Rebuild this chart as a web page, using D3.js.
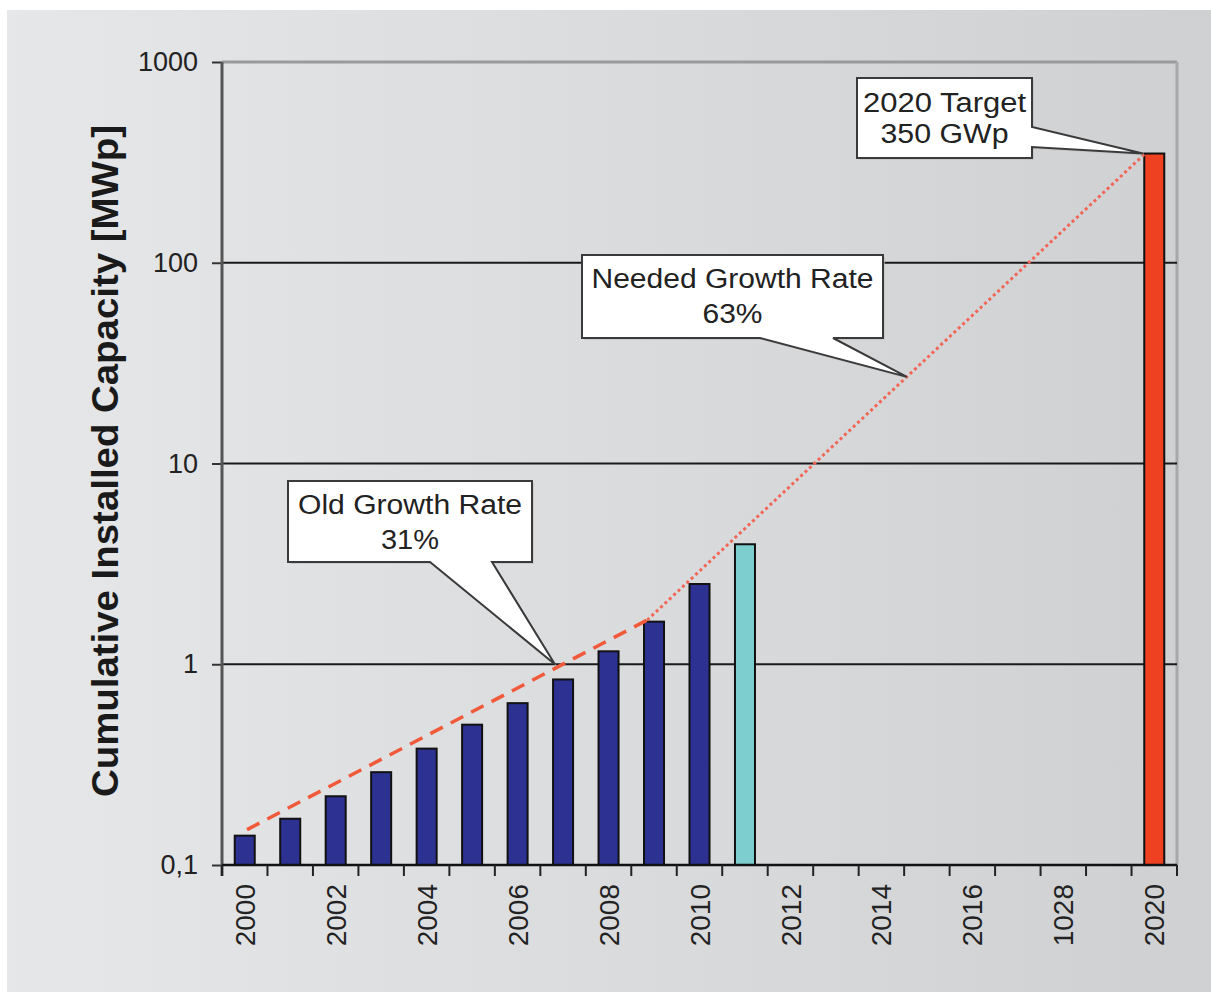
<!DOCTYPE html>
<html>
<head>
<meta charset="utf-8">
<script src="https://cdn.jsdelivr.net/npm/d3@7"></script>
<style>
  html, body { margin: 0; padding: 0; background: #ffffff; }
  svg { display: block; }
  text { font-family: "Liberation Sans", Arial, sans-serif; }
</style>
</head>
<body>
<svg id="chart" width="1211" height="992"></svg>
<script>
// ---------- DATA ----------
const years = d3.range(2000, 2021);                       // categories 2000..2020
const capacity = [0.14, 0.17, 0.22, 0.29, 0.38, 0.50, 0.64, 0.84, 1.16, 1.63, 2.51, 3.96,
                  null, null, null, null, null, null, null, null, 350];
const barKind = ["actual","actual","actual","actual","actual","actual","actual","actual","actual","actual","actual","estimate",
                 null, null, null, null, null, null, null, null, "target"];
const xTickYears = [2000, 2002, 2004, 2006, 2008, 2010, 2012, 2014, 2016, 2018, 2020];
const xTickLabels = ["2000", "2002", "2004", "2006", "2008", "2010", "2012", "2014", "2016", "1028", "2020"];
const yTickValues = [0.1, 1, 10, 100, 1000];
const yTickLabels = ["0,1", "1", "10", "100", "1000"];
const oldGrowthLine = [{year: 2000.05, value: 0.15}, {year: 2008.85, value: 1.66}];
const neededGrowthLine = [{year: 2008.85, value: 1.66}, {year: 2019.8, value: 350}];
const calloutText = [["Old Growth Rate", "31%"], ["Needed Growth Rate", "63%"], ["2020 Target", "350 GWp"]];
const calloutTip = [{year: 2006.82, value: 1}, {year: 2014.56, value: 27}, {year: 2019.75, value: 350}];
const yAxisTitle = "Cumulative Installed Capacity [MWp]";

// ---------- LAYOUT ----------
const W = 1211, H = 992;
const L = 222, R = 1177, T = 62, B = 865;
const svg = d3.select("#chart");
const defs = svg.append("defs");
const bg = defs.append("linearGradient").attr("id", "bg").attr("x1", 0).attr("x2", 1).attr("y1", 0).attr("y2", 0);
bg.append("stop").attr("offset", "0%").attr("stop-color", "#e6e7e9");
bg.append("stop").attr("offset", "100%").attr("stop-color", "#cfd0d2");

svg.append("rect").attr("width", W).attr("height", H).attr("fill", "#ffffff");
svg.append("rect").attr("x", 7).attr("y", 10).attr("width", W - 7).attr("height", H - 10).attr("fill", "url(#bg)");

const x = d3.scaleBand().domain(years).range([L, R]).paddingInner(0.56).paddingOuter(0.28);
const step = x.step();
const xc = yr => L + step * (yr - 2000 + 0.5);   // continuous position on the year axis
const y = d3.scaleLog().domain([0.1, 1000]).range([B, T]);

// plot border (top and right), grey
svg.append("line").attr("x1", L).attr("x2", R).attr("y1", y(1000)).attr("y2", y(1000))
  .attr("stroke", "#9a9a9a").attr("stroke-width", 3);
svg.append("line").attr("x1", R).attr("x2", R).attr("y1", T).attr("y2", B)
  .attr("stroke", "#a8a8a8").attr("stroke-width", 3);

// gridlines
svg.append("g").selectAll("line").data([1, 10, 100]).join("line")
  .attr("x1", L).attr("x2", R).attr("y1", d => y(d)).attr("y2", d => y(d))
  .attr("stroke", "#1a1a1a").attr("stroke-width", 2);

// y axis
const yAxis = d3.axisLeft(y).tickValues(yTickValues)
  .tickFormat((d, i) => yTickLabels[i]).tickSize(10).tickPadding(14);
const gy = svg.append("g").attr("transform", `translate(${L},0)`).call(yAxis);
gy.select(".domain").remove();
gy.selectAll(".tick line").attr("stroke", "#333").attr("stroke-width", 2);
gy.selectAll(".tick text").attr("font-size", 27).attr("fill", "#222")
  .attr("font-family", "'Liberation Sans', Arial, sans-serif");
svg.append("line").attr("x1", L).attr("x2", L).attr("y1", T).attr("y2", B + 11)
  .attr("stroke", "#555").attr("stroke-width", 3);

// bars
svg.append("g").selectAll("rect")
  .data(years.map((yr, i) => ({year: yr, value: capacity[i], kind: barKind[i]})).filter(d => d.value != null))
  .join("rect")
  .attr("x", d => x(d.year)).attr("width", x.bandwidth())
  .attr("y", d => y(d.value)).attr("height", d => B - y(d.value))
  .attr("fill", d => ({actual: "#2d3192", estimate: "#7dcfcf", target: "#ee4122"})[d.kind])
  .attr("stroke", "#111").attr("stroke-width", 2);

// x axis
svg.append("line").attr("x1", L).attr("x2", R).attr("y1", B).attr("y2", B)
  .attr("stroke", "#111").attr("stroke-width", 2.5);
const boundaries = d3.range(0, years.length + 1).map(i => L + step * i);
svg.append("g").selectAll("line").data(boundaries).join("line")
  .attr("x1", d => d).attr("x2", d => d).attr("y1", B).attr("y2", B + 11)
  .attr("stroke", "#222").attr("stroke-width", 2);
const xAxis = d3.axisBottom(x).tickValues(xTickYears)
  .tickFormat(d => xTickLabels[xTickYears.indexOf(d)]).tickSize(0);
const gx = svg.append("g").attr("transform", `translate(0,${B})`).call(xAxis);
gx.select(".domain").remove();
gx.selectAll(".tick text")
  .attr("font-size", 28).attr("fill", "#222")
  .attr("font-family", "'Liberation Sans', Arial, sans-serif")
  .attr("transform", "rotate(-90)")
  .attr("text-anchor", "end").attr("x", -19).attr("y", 0).attr("dy", "0.36em");

// growth lines
const line = d3.line().x(d => xc(d.year)).y(d => y(d.value));
svg.append("path").datum(oldGrowthLine).attr("d", line)
  .attr("fill", "none").attr("stroke", "#f05a3a").attr("stroke-width", 3.5)
  .attr("stroke-dasharray", "14,9");
svg.append("path").datum(neededGrowthLine).attr("d", line)
  .attr("fill", "none").attr("stroke", "#f26656").attr("stroke-width", 3)
  .attr("stroke-dasharray", "3,3");

// callouts (box layout in pixels, tips from data)
const boxes = [
  {x0: 288, y0: 481, x1: 532, y1: 562, side: "bottom", a: 430, b: 492, lines: [514, 549], widths: [224, 58]},
  {x0: 582, y0: 255, x1: 883, y1: 338, side: "bottom", a: 760, b: 833, lines: [288, 323], widths: [282, 60]},
  {x0: 857, y0: 78, x1: 1032, y1: 158, side: "right", a: 127, b: 147, lines: [112, 143], widths: [163, 128]}
];
boxes.forEach((bx, i) => {
  const tx = xc(calloutTip[i].year), ty = y(calloutTip[i].value);
  let p;
  if (bx.side === "bottom") {
    p = `M${bx.x0},${bx.y0} L${bx.x1},${bx.y0} L${bx.x1},${bx.y1} L${bx.b},${bx.y1} L${tx},${ty} L${bx.a},${bx.y1} L${bx.x0},${bx.y1} Z`;
  } else {
    p = `M${bx.x0},${bx.y0} L${bx.x1},${bx.y0} L${bx.x1},${bx.a} L${tx},${ty} L${bx.x1},${bx.b} L${bx.x1},${bx.y1} L${bx.x0},${bx.y1} Z`;
  }
  svg.append("path").attr("d", p).attr("fill", "#bcbcbc").attr("transform", "translate(2,2)").attr("opacity", 0.6);
  svg.append("path").attr("d", p).attr("fill", "#ffffff").attr("stroke", "#3a3a3a").attr("stroke-width", 2)
    .attr("stroke-linejoin", "miter");
  const cx = (bx.x0 + bx.x1) / 2;
  calloutText[i].forEach((t, j) => {
    svg.append("text").attr("x", cx).attr("y", bx.lines[j]).attr("text-anchor", "middle")
      .attr("font-size", 27).attr("fill", "#222")
      .attr("textLength", bx.widths[j]).attr("lengthAdjust", "spacingAndGlyphs")
      .text(t);
  });
});

// y axis title
svg.append("text")
  .attr("transform", `translate(118,${(125 + 797) / 2}) rotate(-90)`)
  .attr("text-anchor", "middle").attr("font-size", 36).attr("font-weight", "bold")
  .attr("fill", "#1a1a1a")
  .attr("textLength", 672).attr("lengthAdjust", "spacingAndGlyphs")
  .text(yAxisTitle);
</script>
</body>
</html>
